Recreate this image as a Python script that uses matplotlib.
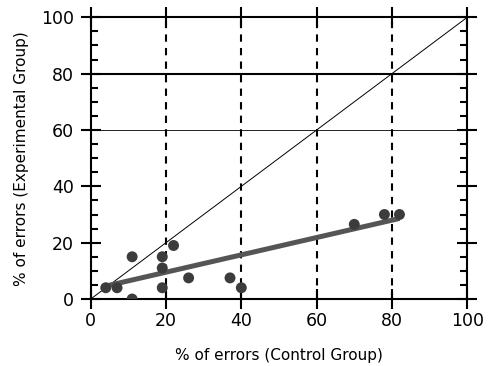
import numpy as np
import matplotlib
matplotlib.use("Agg")
import matplotlib.pyplot as plt
from matplotlib.ticker import MultipleLocator

# % errors, control group (x) vs experimental group (y)
control = [4, 7, 11, 11, 19, 19, 19, 22, 26, 37, 40, 70, 78, 82]
experimental = [4, 4, 0, 15, 15, 11, 4, 19, 7.5, 7.5, 4, 26.5, 30, 30]

# regression line end points
fit_x = [4, 82]
fit_y = [4.6, 28.6]

ticks = [0, 20, 40, 60, 80, 100]

fig = plt.figure(figsize=(4.89, 3.66), dpi=100)
ax = fig.add_axes([0.1855, 0.183, 0.77, 0.7697])

ax.set_xlim(0, 100)
ax.set_ylim(0, 100)

# reference lines
for x in [20, 40, 60, 80]:
    ax.axvline(x, color='black', lw=1.5, ls=(0, (3.5, 3)), zorder=1)
ax.axhline(80, color='black', lw=1.5, zorder=1)
ax.axhline(60, color='black', lw=0.6, zorder=1)
ax.plot([0, 100], [0, 100], color='black', lw=0.7, zorder=2)

ax.plot(fit_x, fit_y, color='#555555', lw=3.6, solid_capstyle='butt', zorder=3)
ax.scatter(control, experimental, s=62, color='#3c3c3c', edgecolors='none', zorder=4)

for s in ax.spines.values():
    s.set_linewidth(1.5)

ax.set_xticks(ticks)
ax.set_yticks(ticks)
ax.yaxis.set_minor_locator(MultipleLocator(5))
ax.tick_params(which='major', direction='inout', length=14, width=1.5,
               top=True, right=True, labelsize=12.5)
ax.tick_params(axis='x', which='major', pad=2.5)
ax.tick_params(axis='y', which='major', pad=5)
ax.tick_params(axis='y', which='minor', direction='in', length=5, width=1.5,
               left=True, right=True)
ax.tick_params(axis='x', which='minor', bottom=False, top=False)

ax.set_xlabel('% of errors (Control Group)', fontsize=11, labelpad=13)
ax.set_ylabel('% of errors (Experimental Group)', fontsize=11, labelpad=9)

fig.savefig('out.png', dpi=100)
